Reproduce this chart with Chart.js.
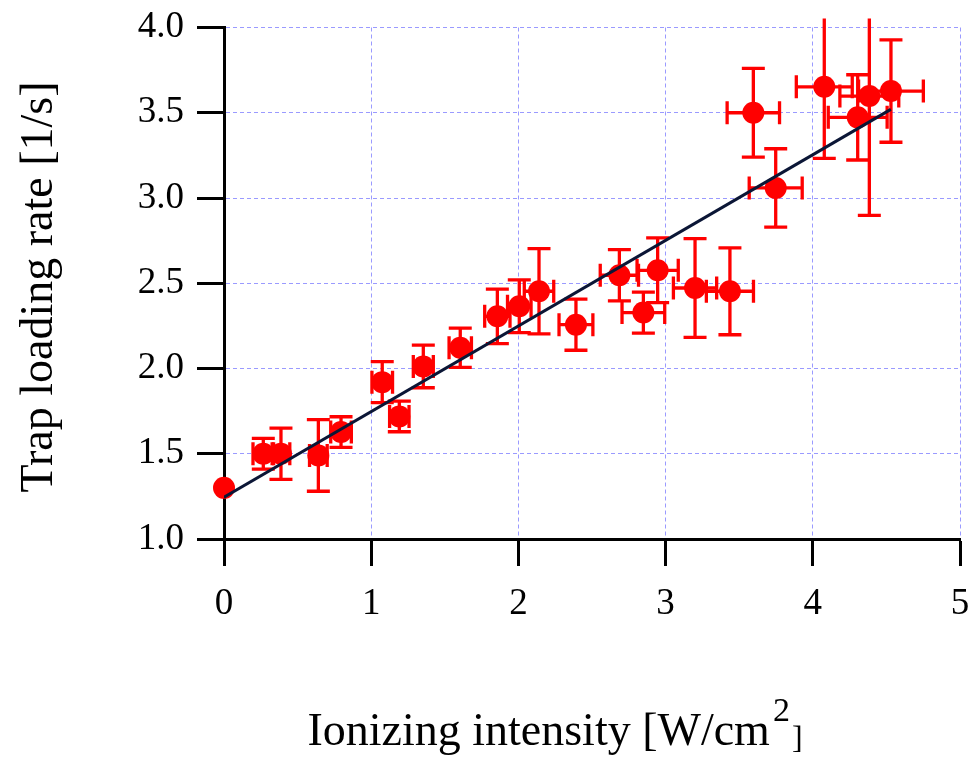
<!DOCTYPE html>
<html><head><meta charset="utf-8">
<script src="https://cdn.jsdelivr.net/npm/chart.js@4.4.0/dist/chart.umd.min.js"></script>
<style>html,body{margin:0;padding:0;background:#fff;} #wrap{width:972px;height:757px;position:relative;}</style>
</head><body><div id="wrap"><canvas id="c" width="972" height="757"></canvas></div>
<script>
// ---- data ----
const intensity    = [0, 0.267, 0.387, 0.641, 0.795, 1.075, 1.191, 1.354, 1.605, 1.857, 2.006, 2.14, 2.391, 2.686, 2.849, 2.946, 3.2, 3.437, 3.596, 3.748, 4.078, 4.305, 4.384, 4.531];
const loadingRate  = [1.30, 1.50, 1.50, 1.49, 1.627, 1.92, 1.719, 2.012, 2.122, 2.306, 2.365, 2.453, 2.257, 2.547, 2.328, 2.576, 2.472, 2.453, 3.50, 3.059, 3.652, 3.473, 3.598, 3.627];
const intensityErr = [0, 0.07, 0.06, 0.06, 0.07, 0.07, 0.066, 0.068, 0.076, 0.086, 0.08, 0.10, 0.115, 0.13, 0.145, 0.14, 0.147, 0.16, 0.178, 0.18, 0.19, 0.20, 0.20, 0.22];
const rateErr      = [0, 0.09, 0.15, 0.21, 0.09, 0.12, 0.09, 0.125, 0.115, 0.16, 0.155, 0.25, 0.15, 0.15, 0.12, 0.19, 0.29, 0.255, 0.26, 0.23, 0.42, 0.25, 0.70, 0.30];
const fitX = [0, 4.53];
const fitY = [1.245, 3.52];
const xTickValues = [0, 1, 2, 3, 4, 5];
const yTickValues = [1.0, 1.5, 2.0, 2.5, 3.0, 3.5, 4.0];
const xTitleMain = 'Ionizing intensity [W/cm';
const xTitleSup = '2';
const xTitleEnd = ']';
const yTitle = 'Trap loading rate [1/s]';

const FONT = "'Liberation Serif', 'Times New Roman', serif";
const RED = '#ff0000';

const errorBars = {
  id: 'errorBars',
  beforeDatasetsDraw(chart) {
    const {ctx, chartArea, scales: {x, y}} = chart;
    ctx.save();
    ctx.beginPath();
    ctx.rect(chartArea.left - 60, chartArea.top - 9, chartArea.right - chartArea.left + 120, chartArea.bottom - chartArea.top + 9);
    ctx.clip();
    ctx.strokeStyle = RED;
    ctx.lineWidth = 3.3;
    const cap = 11.5;
    intensity.forEach((xv, i) => {
      const yv = loadingRate[i];
      const px = x.getPixelForValue(xv), py = y.getPixelForValue(yv);
      const ey = rateErr[i], ex = intensityErr[i];
      ctx.beginPath();
      if (ey > 0) {
        const t = y.getPixelForValue(yv + ey), b = y.getPixelForValue(yv - ey);
        ctx.moveTo(px, t); ctx.lineTo(px, b);
        ctx.moveTo(px - cap, t); ctx.lineTo(px + cap, t);
        ctx.moveTo(px - cap, b); ctx.lineTo(px + cap, b);
      }
      if (ex > 0) {
        const l = x.getPixelForValue(xv - ex), r = x.getPixelForValue(xv + ex);
        ctx.moveTo(l, py); ctx.lineTo(r, py);
        ctx.moveTo(l, py - cap); ctx.lineTo(l, py + cap);
        ctx.moveTo(r, py - cap); ctx.lineTo(r, py + cap);
      }
      ctx.stroke();
    });
    ctx.restore();
  }
};

const axisTitles = {
  id: 'axisTitles',
  afterDraw(chart) {
    const {ctx} = chart;
    ctx.save();
    ctx.fillStyle = '#000';
    // y title
    ctx.save();
    ctx.translate(40, 287);
    ctx.rotate(-Math.PI / 2);
    ctx.font = '46px ' + FONT;
    ctx.textAlign = 'center';
    ctx.textBaseline = 'middle';
    ctx.fillText(yTitle, 0, 0);
    ctx.restore();
    // x title with superscript
    ctx.textBaseline = 'alphabetic';
    ctx.textAlign = 'left';
    ctx.font = '46px ' + FONT;
    const w1 = ctx.measureText(xTitleMain).width;
    ctx.font = '34px ' + FONT;
    const w2 = ctx.measureText(xTitleSup).width;
    ctx.font = '32px ' + FONT;
    const w3 = ctx.measureText(xTitleEnd).width;
    const total = w1 + 3 + w2 + 2 + w3;
    let xs = 555 - total / 2;
    const base = 745;
    ctx.font = '46px ' + FONT;
    ctx.fillText(xTitleMain, xs, base);
    xs += w1 + 3;
    ctx.font = '34px ' + FONT;
    ctx.fillText(xTitleSup, xs, base - 24);
    xs += w2 + 2;
    ctx.font = '32px ' + FONT;
    ctx.fillText(xTitleEnd, xs, base + 3);
    ctx.restore();
  }
};

const gridCommon = {
  color: '#9a9aff',
  lineWidth: 1,
  tickColor: '#000',
  tickWidth: 3,
  tickLength: 27,
  drawOnChartArea: true
};

new Chart(document.getElementById('c'), {
  type: 'scatter',
  data: {
    datasets: [
      {
        type: 'line',
        data: fitX.map((v, i) => ({x: v, y: fitY[i]})),
        borderColor: '#0b1636',
        borderWidth: 3,
        pointRadius: 0,
        fill: false,
        order: 0
      },
      {
        type: 'scatter',
        data: intensity.map((v, i) => ({x: v, y: loadingRate[i]})),
        backgroundColor: RED,
        borderColor: RED,
        borderWidth: 0,
        pointRadius: 11,
        pointHoverRadius: 11,
        order: 1,
        clip: 20
      }
    ]
  },
  options: {
    responsive: false,
    animation: false,
    devicePixelRatio: 1,
    events: [],
    layout: {padding: {top: 27.5, right: 12, left: 0, bottom: 0}},
    plugins: {legend: {display: false}, tooltip: {enabled: false}, title: {display: false}},
    scales: {
      x: {
        type: 'linear',
        min: 0, max: 5,
        afterBuildTicks: s => { s.ticks = xTickValues.map(v => ({value: v})); },
        afterFit: s => { s.height = 757 - 539; s.paddingLeft = 0; s.paddingRight = 0; },
        ticks: {color: '#000', font: {family: FONT, size: 37}, padding: 16, maxRotation: 0,
                callback: v => String(v)},
        grid: gridCommon,
        border: {display: true, color: '#000', width: 3, dash: [4, 3]}
      },
      y: {
        type: 'linear',
        min: 1, max: 4,
        afterBuildTicks: s => { s.ticks = yTickValues.map(v => ({value: v})); },
        afterFit: s => { s.width = 224; s.paddingTop = 0; s.paddingBottom = 0; },
        ticks: {color: '#000', font: {family: FONT, size: 37}, padding: 13,
                callback: v => Number(v).toFixed(1)},
        grid: gridCommon,
        border: {display: true, color: '#000', width: 3, dash: [4, 3]}
      }
    }
  },
  plugins: [errorBars, axisTitles]
});
</script>
</body></html>
